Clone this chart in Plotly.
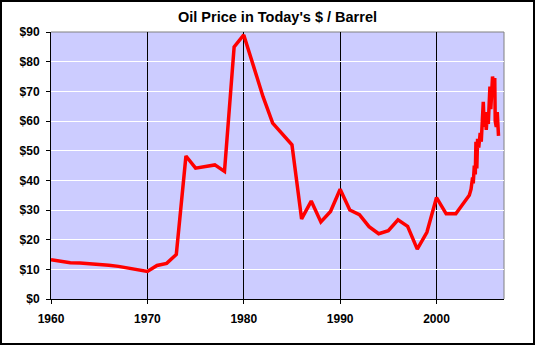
import plotly.graph_objects as go

# yearly values 1960-2003
years = list(range(1960, 2004))
prices = [13.2, 12.6, 12.2, 12.1, 11.9, 11.7, 11.4, 11.0, 10.5, 10.0,
          9.3, 11.3, 12.0, 15.0, 48.2, 44.1, 44.6, 45.2, 43.0, 85.0,
          89.0, 78.5, 68.2, 59.3, 55.5, 52.0, 27.0, 33.0, 26.0, 29.5,
          37.0, 30.0, 28.4, 24.4, 22.0, 23.0, 26.7, 24.5, 16.8, 22.5,
          34.2, 28.7, 28.7, 33.0]
# finer (sub-annual) values 2003-2006
recent_years = [2003.40, 2003.58, 2003.74, 2003.81, 2003.92, 2004.02, 2004.09, 2004.18,
                2004.26, 2004.38, 2004.53, 2004.64, 2004.85, 2004.95, 2005.06, 2005.16,
                2005.26, 2005.37, 2005.47, 2005.54, 2005.63, 2005.73, 2005.81, 2005.94,
                2006.04, 2006.09, 2006.20, 2006.30, 2006.38, 2006.43]
recent_prices = [35, 37, 41, 39, 45, 42, 53, 44,
                 54, 51, 56, 53, 66.5, 58, 63, 57,
                 62, 59, 65, 71.6, 64, 73, 75, 72,
                 74.5, 60, 58, 63, 56, 55]

x_ticks = [1960, 1970, 1980, 1990, 2000]
y_ticks = [0, 10, 20, 30, 40, 50, 60, 70, 80, 90]
y_tick_labels = ["$0", "$10", "$20", "$30", "$40", "$50", "$60", "$70", "$80", "$90"]
title_text = "Oil Price in Today's $ / Barrel"

xs = years + recent_years
ys = prices + recent_prices

FONT = "Arial, 'Liberation Sans', sans-serif"

fig = go.Figure()
fig.add_trace(go.Scatter(x=xs, y=ys, mode="lines",
                         line=dict(color="#FF0000", width=3.5),
                         hoverinfo="skip", showlegend=False))

L, R, T, B = 51, 31, 32, 46
W, H = 535, 345
pw, ph = W - L - R, H - T - B

def px_x(p):
    return (p - L) / pw

def px_y(p):
    return (H - B - p) / ph

fig.update_layout(
    width=W, height=H,
    margin=dict(l=L, r=R, t=T, b=B, pad=0),
    paper_bgcolor="white",
    plot_bgcolor="#CCCCFF",
    title=dict(text=title_text, x=0.5, xref="paper", xanchor="center",
               y=1 - 17 / H, yanchor="middle",
               font=dict(family=FONT, size=14.5, color="black", weight="bold")),
    xaxis=dict(range=[1960, 2007], tickvals=x_ticks, ticks="outside", ticklen=4,
               tickcolor="black", showgrid=True, gridcolor="black", gridwidth=1,
               showline=True, linecolor="black", linewidth=1, zeroline=False,
               ticklabelstandoff=5, automargin=False,
               tickfont=dict(family=FONT, size=12, color="black", weight="bold")),
    yaxis=dict(range=[0, 90], tickvals=y_ticks, ticktext=y_tick_labels, ticks="outside",
               ticklen=4, tickcolor="black", showgrid=True, gridcolor="white",
               gridwidth=1, showline=True, linecolor="black", linewidth=1,
               zeroline=False, ticklabelstandoff=4, automargin=False,
               tickfont=dict(family=FONT, size=12, color="black", weight="bold")),
    shapes=[
        dict(type="line", xref="paper", yref="paper", x0=0, x1=1, y0=1, y1=1,
             line=dict(color="#808080", width=1), layer="below"),
        dict(type="line", xref="paper", yref="paper", x0=1, x1=1, y0=0, y1=1,
             line=dict(color="#808080", width=1), layer="below"),
        dict(type="rect", xref="paper", yref="paper",
             x0=px_x(1), x1=px_x(534), y0=px_y(1), y1=px_y(344),
             line=dict(color="black", width=2), fillcolor="rgba(0,0,0,0)"),
    ],
)

fig.write_html("out.html", config={"displayModeBar": False},
               post_script="document.body.style.margin='0';document.body.style.padding='0';")
